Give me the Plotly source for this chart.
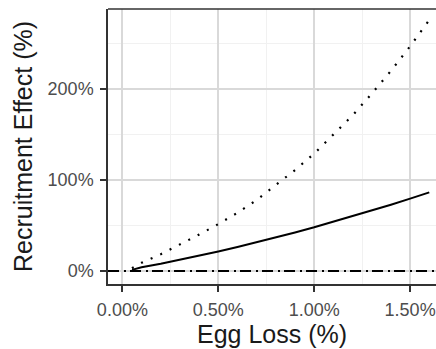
import plotly.graph_objects as go

# Egg loss (%) and the modelled recruitment effect (%)
egg_loss = [0.05, 0.1, 0.2, 0.3, 0.4, 0.5, 0.6, 0.7, 0.8, 0.9, 1.0,
            1.1, 1.2, 1.3, 1.4, 1.5, 1.6]
effect_mid = [1.2, 4.0, 8.0, 12.3, 16.8, 21.5, 26.4, 31.5, 36.8, 42.3, 48.0,
              54.0, 60.0, 66.3, 72.8, 79.5, 86.4]
effect_high = [3.0, 9.0, 18.5, 29.0, 40.0, 51.5, 64.0, 78.0, 94.0, 111.0, 129.0,
               150.0, 171.0, 195.0, 220.0, 247.0, 276.0]
baseline = 0

x_ticks = [0, 0.5, 1.0, 1.5]
x_tick_labels = ["0.00%", "0.50%", "1.00%", "1.50%"]
y_ticks = [0, 100, 200]
y_tick_labels = ["0%", "100%", "200%"]

fig = go.Figure()

fig.add_hline(y=baseline, line=dict(color="black", width=2, dash="11px,5px,2px,4px"),
              layer="above")

fig.add_trace(go.Scatter(x=egg_loss, y=effect_high, mode="lines",
                         line=dict(color="black", width=2.2, dash="2px,8.5px"),
                         showlegend=False))
fig.add_trace(go.Scatter(x=egg_loss, y=effect_mid, mode="lines",
                         line=dict(color="black", width=2),
                         showlegend=False))

axis_common = dict(
    showgrid=True, gridcolor="#d9d9d9", gridwidth=1.8,
    zeroline=False, showline=True, linecolor="#333333", linewidth=1.5,
    ticks="outside", ticklen=6, tickwidth=1.5, tickcolor="#333333",
    ticklabelstandoff=3,
    tickfont=dict(family="Liberation Sans, Arial, sans-serif", size=18, color="#4d4d4d"),
    title_font=dict(family="Liberation Sans, Arial, sans-serif", size=25, color="#1a1a1a"),
)

fig.update_xaxes(
    range=[-0.075, 1.635], tickvals=x_ticks, ticktext=x_tick_labels,
    title_text="Egg Loss (%)", title_standoff=4,
    minor=dict(showgrid=True, gridcolor="#f1f1f1", gridwidth=1, dtick=0.25, tick0=0),
    **axis_common,
)
fig.update_yaxes(
    range=[-14.3, 288], tickvals=y_ticks, ticktext=y_tick_labels,
    title_text="Recruitment Effect (%)", title_standoff=8,
    minor=dict(showgrid=True, gridcolor="#f1f1f1", gridwidth=1, dtick=50, tick0=0),
    **axis_common,
)

# top edge of the panel border
fig.add_shape(type="line", xref="paper", yref="paper", x0=0, x1=1, y0=1, y1=1,
              line=dict(color="#333333", width=1.5))

fig.update_layout(
    width=436, height=349,
    margin=dict(l=108, r=0, t=9, b=65),
    plot_bgcolor="white", paper_bgcolor="white",
    font=dict(family="Liberation Sans, Arial, sans-serif"),
)

fig.write_html("out.html")
